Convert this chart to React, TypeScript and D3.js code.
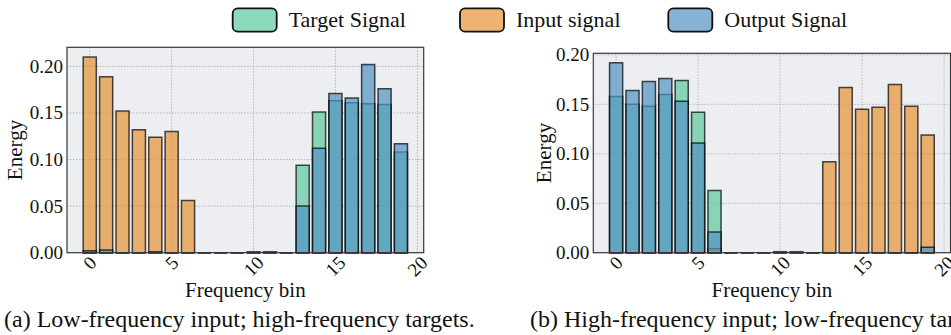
import React from "react";
import * as d3 from "d3";

// Frequency bins 0..19
const bins = [0, 1, 2, 3, 4, 5, 6, 7, 8, 9, 10, 11, 12, 13, 14, 15, 16, 17, 18, 19];
const xTickValues = [0, 5, 10, 15, 20];
const yTickValues = [0, 0.05, 0.1, 0.15, 0.2];

// (a) low-frequency input, high-frequency targets
const targetA = [0, 0, 0, 0, 0, 0, 0, 0, 0, 0, 0, 0, 0, 0.094, 0.151, 0.163, 0.161, 0.16, 0.159, 0.108];
const inputA = [0.21, 0.189, 0.152, 0.132, 0.124, 0.13, 0.056, 0, 0, 0, 0.001, 0.001, 0, 0, 0, 0, 0, 0, 0, 0];
const outputA = [0.002, 0.003, 0, 0, 0.001, 0, 0, 0, 0, 0, 0, 0, 0, 0.05, 0.112, 0.171, 0.166, 0.202, 0.176, 0.117];

// (b) high-frequency input, low-frequency targets
const targetB = [0.158, 0.15, 0.148, 0.16, 0.174, 0.142, 0.063, 0, 0, 0, 0, 0, 0, 0, 0, 0, 0, 0, 0, 0];
const inputB = [0, 0, 0, 0, 0, 0, 0.004, 0, 0, 0, 0.001, 0.001, 0, 0.092, 0.167, 0.145, 0.147, 0.17, 0.148, 0.119];
const outputB = [0.192, 0.164, 0.173, 0.176, 0.153, 0.111, 0.021, 0, 0, 0, 0, 0, 0, 0, 0, 0, 0, 0, 0, 0.0055];

const seriesNames = ["Target Signal", "Input signal", "Output Signal"];
const seriesColors = ["#5dc9a0", "#e69336", "#5293c2"];
const captions = [
  "(a) Low-frequency input; high-frequency targets.",
  "(b) High-frequency input; low-frequency targets.",
];

const FONT = '"Liberation Serif", "Times New Roman", Times, serif';
const ALPHA = 0.7;
const BG = "#eceef1";
const txt = { fontFamily: FONT } as React.CSSProperties;

type PanelProps = {
  left: number;
  right: number;
  top: number;
  bottom: number;
  series: number[][];
  energyX: number;
  caption: string;
  captionX: number;
};

function Panel({ left, right, top, bottom, series, energyX, caption, captionX }: PanelProps) {
  const x = d3.scaleLinear().domain([-0.4 - 0.99, 19.4 + 0.99]).range([left, right]);
  const maxVal = d3.max(series.flat()) as number;
  const y = d3.scaleLinear().domain([0, maxVal * 1.05]).range([bottom, top]);
  const tickFs = 19;

  const barPath = (i: number, v: number) => {
    const xl = x(i - 0.4);
    const xr = x(i + 0.4);
    const yb = y(0);
    const yt = y(v);
    return `M${xl},${yb}V${yt}H${xr}V${yb}Z`;
  };

  const midX = (left + right) / 2;
  const midY = (top + bottom) / 2;

  return (
    <g>
      <rect x={left} y={top} width={right - left} height={bottom - top} fill={BG} />
      {/* grid */}
      {yTickValues.map((t) => (
        <line key={"gy" + t} x1={left} x2={right} y1={y(t)} y2={y(t)} stroke="#a8a8a8" strokeWidth={0.8} strokeDasharray="1.5,1.5" />
      ))}
      {xTickValues.map((t) => (
        <line key={"gx" + t} x1={x(t)} x2={x(t)} y1={top} y2={bottom} stroke="#a8a8a8" strokeWidth={0.8} strokeDasharray="1.5,1.5" />
      ))}
      {/* bars: target, input, output */}
      {series.map((vals, s) => (
        <g key={"s" + s}>
          {bins.map((b) => (
            <path
              key={b}
              d={barPath(b, vals[b])}
              fill={seriesColors[s]}
              fillOpacity={ALPHA}
              stroke="#000"
              strokeOpacity={ALPHA}
              strokeWidth={1.5}
            />
          ))}
        </g>
      ))}
      {/* frame */}
      <rect x={left} y={top} width={right - left} height={bottom - top} fill="none" stroke="#3a3a3a" strokeWidth={1.2} />
      {/* y tick labels */}
      {yTickValues.map((t) => (
        <text
          key={"yl" + t}
          x={left - 4}
          y={y(t)}
          textAnchor="end"
          dominantBaseline="central"
          style={txt}
          fontSize={tickFs}
          fill="#111"
        >
          {t.toFixed(2)}
        </text>
      ))}
      {/* x tick labels, rotated */}
      {xTickValues.map((t) => {
        const label = String(t);
        const w = label.length * 0.5 * tickFs;
        const cy = bottom + 2 + (w + 0.7 * tickFs) / (2 * Math.SQRT2);
        return (
          <text
            key={"xl" + t}
            transform={`translate(${x(t)},${cy}) rotate(-45)`}
            textAnchor="middle"
            dominantBaseline="central"
            style={txt}
            fontSize={tickFs}
            fill="#111"
          >
            {label}
          </text>
        );
      })}
      <text transform={`translate(${energyX},${midY}) rotate(-90)`} textAnchor="middle" style={txt} fontSize={21} fill="#111">
        Energy
      </text>
      <text x={midX} y={296.7} textAnchor="middle" style={txt} fontSize={21} fill="#111">
        Frequency bin
      </text>
      <text x={captionX} y={326.7} style={txt} fontSize={24} fill="#111">
        {caption}
      </text>
    </g>
  );
}

function Legend() {
  const patchX = [232.7, 460, 668.3];
  return (
    <g>
      {seriesNames.map((name, i) => (
        <g key={name}>
          <rect
            x={patchX[i]}
            y={8.3}
            width={44}
            height={23.4}
            rx={5}
            fill={seriesColors[i]}
            fillOpacity={ALPHA}
            stroke="#111"
            strokeWidth={1.8}
          />
          <text x={patchX[i] + 56} y={26.7} style={txt} fontSize={22} fill="#111">
            {name}
          </text>
        </g>
      ))}
    </g>
  );
}

export default function App() {
  return (
    <svg
      width={951}
      height={335}
      viewBox="0 0 951 335"
      style={{ position: "absolute", left: 0, top: 0, background: "#fff" }}
    >
      <rect width={951} height={335} fill="#fff" />
      <Legend />
      <Panel
        left={67}
        right={423.7}
        top={47.3}
        bottom={252.7}
        series={[targetA, inputA, outputA]}
        energyX={22}
        caption={captions[0]}
        captionX={4}
      />
      <Panel
        left={593.3}
        right={950.5}
        top={53.3}
        bottom={252.7}
        series={[targetB, inputB, outputB]}
        energyX={550.6}
        caption={captions[1]}
        captionX={530}
      />
    </svg>
  );
}
